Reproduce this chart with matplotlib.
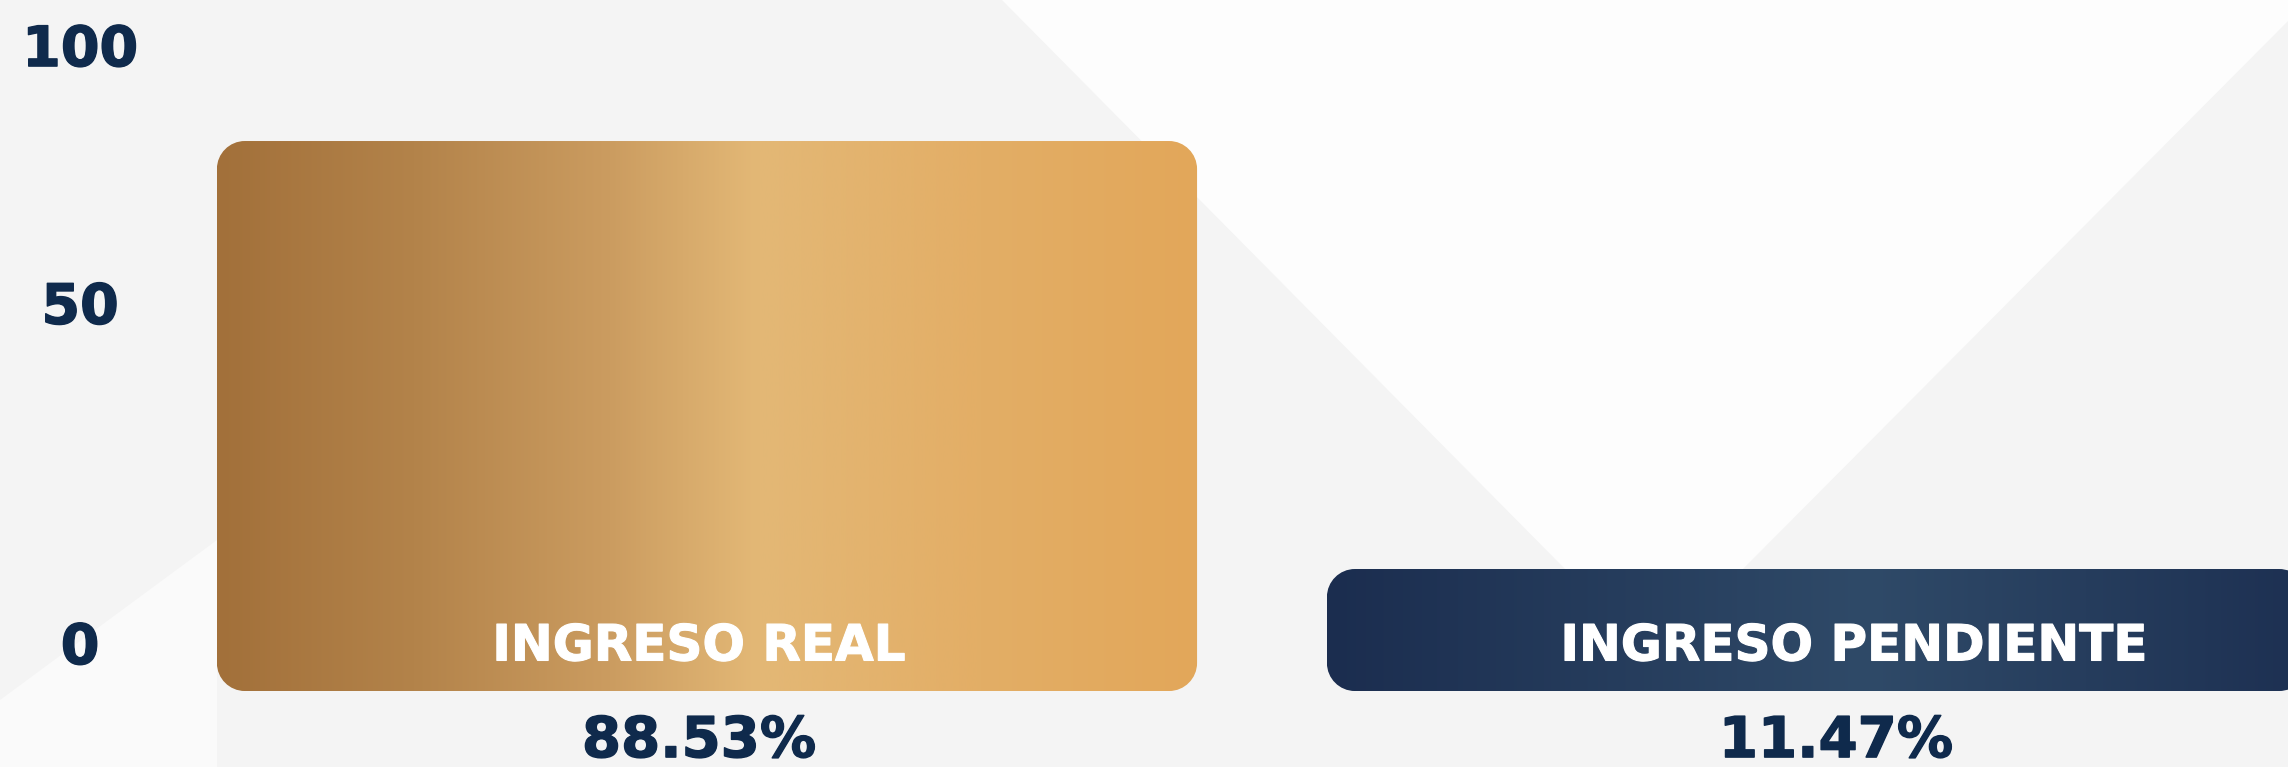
import numpy as np
import matplotlib
matplotlib.use("Agg")
import matplotlib.pyplot as plt
from matplotlib.patches import PathPatch, Polygon
from matplotlib.path import Path
from matplotlib.colors import LinearSegmentedColormap
from matplotlib import transforms as mtransforms
from matplotlib import patheffects as pe

# ---------------- data ----------------
categories = ["INGRESO REAL", "INGRESO PENDIENTE"]
values = [88.53, 11.47]
value_labels = ["88.53%", "11.47%"]
tick_labels = ["0", "50", "100"]

# ---------------- layout / style ----------------
W, H, DPI = 2288, 767, 100
NAVY_TEXT = "#0F2A4C"
FONT = ["DejaVu Sans"]
BASE = -10.5                 # rounded bars extend a little below zero
BAR_WIDTH = 0.883
XLIM = (-0.6369, 1.4243)
YLIM = (-24.18, 113.92)
TICK_POS = [-1.85, 59.4, 105.8]
LABEL_Y = -5.0
PCT_Y = -22.4
LABEL_DX_PX = [-8, 37]
PCT_DX_PX = [-8, 19]
RADIUS_PX = 28

gradients = [
    [(0.0, "#A2703A"), (0.2, "#B3834A"), (0.4, "#CB9C60"), (0.55, "#E3B876"),
     (0.78, "#E3AE66"), (1.0, "#E2A75A")],
    [(0.0, "#1B2D4F"), (0.55, "#2F4A68"), (1.0, "#1D3052")],
]

fig = plt.figure(figsize=(W / DPI, H / DPI), dpi=DPI)
fig.patch.set_facecolor("#FDFDFD")


# faint geometric background shapes (pixel coords from top-left -> fractions)
def poly(pts, color):
    pts = [(x / W, 1 - y / H) for x, y in pts]
    fig.add_artist(Polygon(pts, closed=True, transform=fig.transFigure,
                           facecolor=color, edgecolor="none", zorder=-5))


poly([(0, 0), (1002, 0), (1761, 767), (0, 767)], "#F4F4F4")
poly([(0, 767), (0, 700), (217, 540), (217, 767)], "#FAFAFA")
poly([(2288, 21), (1546, 767), (2288, 767)], "#F4F4F4")

ax = fig.add_axes([0, 0, 1, 1])
ax.set_facecolor("none")
for s in ax.spines.values():
    s.set_visible(False)
ax.set_xlim(*XLIM)
ax.set_ylim(*YLIM)

# data units per pixel
ux = (XLIM[1] - XLIM[0]) / W
uy = (YLIM[1] - YLIM[0]) / H


def rounded_rect(x0, y0, w, h, rx, ry):
    k = 0.5523
    x1, y1 = x0 + w, y0 + h
    verts = [
        (x0 + rx, y0), (x1 - rx, y0),
        (x1 - rx + k * rx, y0), (x1, y0 + ry - k * ry), (x1, y0 + ry),
        (x1, y1 - ry),
        (x1, y1 - ry + k * ry), (x1 - rx + k * rx, y1), (x1 - rx, y1),
        (x0 + rx, y1),
        (x0 + rx - k * rx, y1), (x0, y1 - ry + k * ry), (x0, y1 - ry),
        (x0, y0 + ry),
        (x0, y0 + ry - k * ry), (x0 + rx - k * rx, y0), (x0 + rx, y0),
        (x0 + rx, y0),
    ]
    codes = ([Path.MOVETO, Path.LINETO] + [Path.CURVE4] * 3 + [Path.LINETO]
             + [Path.CURVE4] * 3 + [Path.LINETO] + [Path.CURVE4] * 3
             + [Path.LINETO] + [Path.CURVE4] * 3 + [Path.CLOSEPOLY])
    return Path(verts, codes)


x = np.arange(len(categories))
bars = ax.bar(x, np.array(values) - BASE, bottom=BASE, width=BAR_WIDTH,
              color="none", edgecolor="none")

for i, rect in enumerate(bars):
    x0, y0 = rect.get_x(), rect.get_y()
    w, h = rect.get_width(), rect.get_height()
    patch = PathPatch(rounded_rect(x0, y0, w, h, RADIUS_PX * ux, RADIUS_PX * uy),
                      facecolor="none", edgecolor="none", zorder=2)
    ax.add_patch(patch)
    cmap = LinearSegmentedColormap.from_list(f"g{i}", gradients[i])
    grad = np.linspace(0, 1, 512).reshape(1, -1)
    im = ax.imshow(grad, cmap=cmap, extent=(x0, x0 + w, y0, y0 + h),
                   aspect="auto", interpolation="bicubic", zorder=2)
    im.set_clip_path(patch)

for i, (cat, lab) in enumerate(zip(categories, value_labels)):
    tr = mtransforms.offset_copy(ax.transData, fig=fig, x=LABEL_DX_PX[i], y=0, units="dots")
    ax.text(x[i], LABEL_Y, cat, transform=tr, ha="center", va="baseline",
            color="white", fontsize=36, fontweight="bold", family=FONT, zorder=3,
            path_effects=[pe.withStroke(linewidth=0.8, foreground="white")])
    tr2 = mtransforms.offset_copy(ax.transData, fig=fig, x=PCT_DX_PX[i], y=0, units="dots")
    ax.text(x[i], PCT_Y, lab, transform=tr2, ha="center", va="baseline",
            color=NAVY_TEXT, fontsize=40.5, fontweight="bold", family=FONT, zorder=3,
            path_effects=[pe.withStroke(linewidth=1.0, foreground=NAVY_TEXT)])

ax.set_xticks([])
ax.set_yticks(TICK_POS, tick_labels)
ax.tick_params(axis="y", length=0, pad=-57.6, labelsize=40, labelcolor=NAVY_TEXT)
for t in ax.get_yticklabels():
    t.set_horizontalalignment("center")
    t.set_fontweight("bold")
    t.set_family(FONT)
    t.set_path_effects([pe.withStroke(linewidth=1.0, foreground=NAVY_TEXT)])

ax.set_xlim(*XLIM)
ax.set_ylim(*YLIM)

fig.savefig("out.png", dpi=DPI, facecolor=fig.get_facecolor())
